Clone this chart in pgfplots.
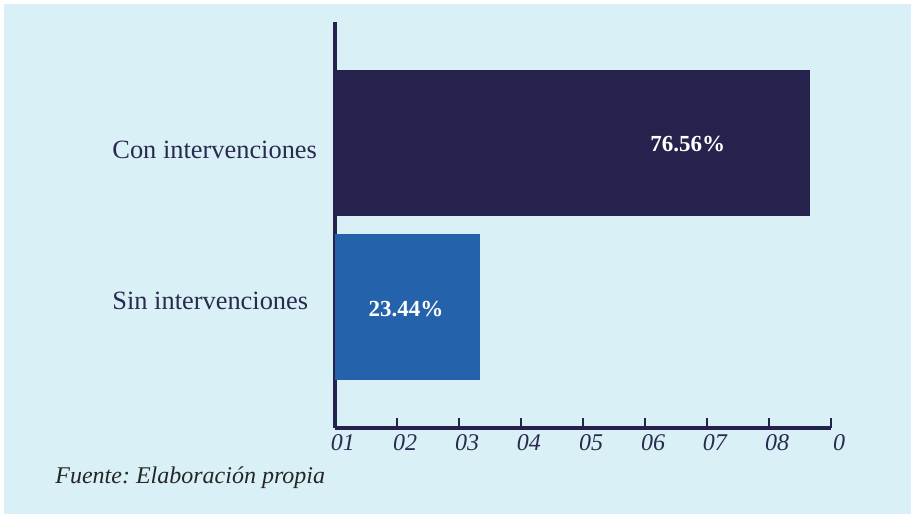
\documentclass[border=0pt]{standalone}
\usepackage{pgfplots}
\pgfplotsset{compat=1.18}
\usepackage{fontspec}
\setmainfont{Liberation Serif}
\definecolor{bgc}{HTML}{D9F1F6}
\definecolor{navy}{HTML}{25234D}
\definecolor{barblue}{HTML}{2462AC}
\definecolor{txt}{HTML}{2A2A4E}
\begin{document}
\frenchspacing
\begin{tikzpicture}
\fill[white] (0,0) rectangle (455.5pt,-257pt);
\fill[bgc] (2pt,-2pt) rectangle (455.5pt,-257pt);
\begin{axis}[
  at={(167.5pt,-214pt)}, anchor=south west,
  scale only axis, width=248pt, height=203pt,
  xmin=0, xmax=80, ymin=0.257, ymax=2.74,
  axis lines*=left,
  axis line style={navy, line width=1.7pt},
  xtick={0,10,...,80},
  xticklabels={01,02,03,04,05,06,07,08,0},
  tick align=inside,
  xtick pos=bottom,
  major tick length=5pt,
  x tick style={navy, line width=1.1pt},
  xticklabel style={font=\fontsize{12}{14}\selectfont\itshape, text=txt, anchor=north, inner sep=0pt, xshift=4pt, yshift=-3pt},
  ytick={0.979,1.908},
  yticklabels={Sin intervenciones,Con intervenciones},
  y tick style={draw=none},
  yticklabel style={font=\fontsize{13.2}{15}\selectfont, text=txt, anchor=base west, inner sep=0pt, xshift=-111.5pt},
  clip=false,
]
\addplot[xbar, bar shift=0pt, bar width=73pt, fill=navy, draw=none] coordinates {(76.56,2)};
\addplot[xbar, bar shift=0pt, bar width=73pt, fill=barblue, draw=none] coordinates {(23.44,1)};
\node[anchor=base, text=white, font=\fontsize{11.5}{13}\selectfont\bfseries, inner sep=0pt] at (axis cs:56.9,1.951) {76.56\%};
\node[anchor=base, text=white, font=\fontsize{11.5}{13}\selectfont\bfseries, inner sep=0pt] at (axis cs:11.45,0.936) {23.44\%};
\end{axis}
\node[anchor=base west, inner sep=0pt, text=black!85, font=\fontsize{12}{14}\selectfont\itshape] at (27.5pt,-241.5pt) {Fuente: Elaboración propia};
\end{tikzpicture}
\end{document}
